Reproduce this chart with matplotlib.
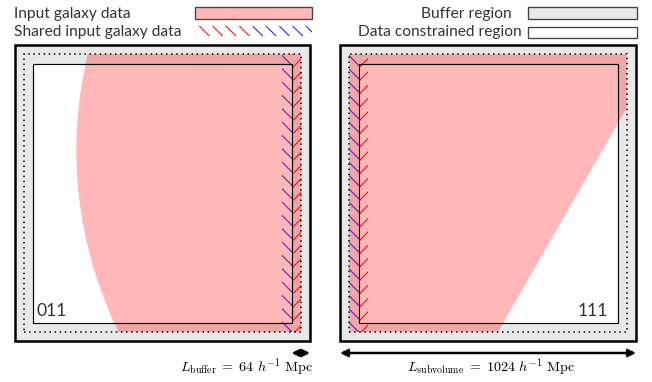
import numpy as np
import matplotlib
matplotlib.use("Agg")
import matplotlib.pyplot as plt
from matplotlib.patches import Rectangle, Circle, Polygon

plt.rcParams['mathtext.fontset'] = 'cm'
plt.rcParams['hatch.linewidth'] = 0.7
plt.rcParams['font.family'] = ['Lato', 'DejaVu Sans']

# ---------------- data ----------------
L_SUBVOLUME = 1024          # h^-1 Mpc
L_BUFFER = 64               # h^-1 Mpc
BOUNDARY = 32               # dotted boundary inset
panel_labels = ["011", "111"]
# survey footprint in subvolume 011 (a large circle)
circle_center = (1636, 660)
circle_radius = 1423
# survey footprint in subvolume 111 (polygon)
poly_x = [32, 547, 992, 992, 32]
poly_y = [32, 32, 806, 992, 992]
# shared strips: (blue x-range, red x-range)
shared_blue = [(928, 960), (32, 64)]
shared_red = [(960, 992), (64, 96)]
legend_left = ["Input galaxy data", "Shared input galaxy data"]
legend_right = ["Buffer region", "Data constrained region"]
buffer_label = r"$L_{\mathrm{buffer}}\;=\;%d\ h^{-1}\ \mathrm{Mpc}$" % L_BUFFER
subvol_label = r"$L_{\mathrm{subvolume}}\;=\;%d\ h^{-1}\ \mathrm{Mpc}$" % L_SUBVOLUME

# ---------------- style ----------------
GREY = "#e8e8e8"
PINK = (1.0, 0.0, 0.0, 0.28)
RED = "#ff1a1a"
BLUE = "#3a30ff"
TXT = "#333333"
HB = "\\\\\\"   # three backslashes
HF = "///"

DPI = 120
W, H = 652, 382
fig = plt.figure(figsize=(W / DPI, H / DPI), dpi=DPI)


def fx(px):
    return px / W


def fy(py):
    return 1 - py / H


axes_px = [(15, 45, 295, 296), (340, 45, 296, 296)]
L = L_SUBVOLUME
axes = []
for i, (x0, y0, w, h) in enumerate(axes_px):
    ax = fig.add_axes([fx(x0), fy(y0 + h), w / W, h / H])
    ax.set_xlim(0, L)
    ax.set_ylim(0, L)
    ax.axis('off')
    axes.append(ax)
    # buffer region
    ax.add_patch(Rectangle((0, 0), L, L, fc=GREY, ec='none', zorder=0))
    # data constrained region
    ax.add_patch(Rectangle((L_BUFFER, L_BUFFER), L - 2 * L_BUFFER, L - 2 * L_BUFFER,
                           fc='white', ec='none', zorder=1))
    # shared hatching
    bx0, bx1 = shared_blue[i]
    rx0, rx1 = shared_red[i]
    ax.add_patch(Rectangle((bx0, BOUNDARY), bx1 - bx0, L - 2 * BOUNDARY, fill=False,
                           hatch=HB, ec=BLUE, lw=0, zorder=2))
    ax.add_patch(Rectangle((rx0, BOUNDARY), rx1 - rx0, L - 2 * BOUNDARY, fill=False,
                           hatch=HF, ec=RED, lw=0, zorder=2))
    # input galaxy data
    clip = Rectangle((BOUNDARY, BOUNDARY), L - 2 * BOUNDARY, L - 2 * BOUNDARY,
                     transform=ax.transData, fc='none', ec='none')
    if i == 0:
        shape = Circle(circle_center, circle_radius, fc=PINK, ec='none', zorder=3)
    else:
        shape = Polygon(np.column_stack([poly_x, poly_y]), closed=True, fc=PINK,
                        ec='none', zorder=3)
    ax.add_patch(shape)
    shape.set_clip_path(clip)
    # inner border
    ax.add_patch(Rectangle((L_BUFFER, L_BUFFER), L - 2 * L_BUFFER, L - 2 * L_BUFFER,
                           fill=False, ec='black', lw=0.7, zorder=4))
    # dotted boundary
    ax.add_patch(Rectangle((BOUNDARY, BOUNDARY), L - 2 * BOUNDARY, L - 2 * BOUNDARY,
                           fill=False, ec='black', lw=0.9, ls=(0, (1, 2.4)), zorder=5))
    # outer border
    ax.add_patch(Rectangle((0, 0), L, L, fill=False, ec='black', lw=1.5, zorder=6,
                           clip_on=False))
    # label
    if i == 0:
        ax.text(76, 87, panel_labels[i], ha='left', va='baseline', fontsize=10.5,
                color=TXT, zorder=7)
    else:
        ax.text(927, 87, panel_labels[i], ha='right', va='baseline', fontsize=10.5,
                color=TXT, zorder=7)

# ---------------- legend ----------------
fs_leg = 9.3
fig.text(fx(14), fy(18.3), legend_left[0], ha='left', va='baseline', fontsize=fs_leg, color=TXT)
fig.text(fx(14), fy(36), legend_left[1], ha='left', va='baseline', fontsize=fs_leg, color=TXT)
fig.patches.append(Rectangle((fx(195), fy(19.3)), (312 - 195) / W, 12 / H,
                             transform=fig.transFigure, fc=PINK, ec='#444444', lw=0.8))
fig.patches.append(Rectangle((fx(196), fy(36)), (254 - 196) / W, 9.5 / H,
                             transform=fig.transFigure, fill=False, hatch=HB, ec=RED, lw=0))
fig.patches.append(Rectangle((fx(254), fy(36)), (312 - 254) / W, 9.5 / H,
                             transform=fig.transFigure, fill=False, hatch=HB, ec=BLUE, lw=0))

fig.text(fx(512), fy(18.3), legend_right[0], ha='right', va='baseline', fontsize=fs_leg, color=TXT)
fig.text(fx(522), fy(36), legend_right[1], ha='right', va='baseline', fontsize=fs_leg, color=TXT)
fig.patches.append(Rectangle((fx(528), fy(19.3)), (637 - 528) / W, 12 / H,
                             transform=fig.transFigure, fc=GREY, ec='#444444', lw=0.8))
fig.patches.append(Rectangle((fx(528), fy(38)), (637 - 528) / W, 11.5 / H,
                             transform=fig.transFigure, fc='white', ec='#444444', lw=0.8))

# ---------------- arrows & labels ----------------
arrow_y = fy(353)
arrow_kw = dict(arrowstyle='<|-|>', color='black', lw=1.5, shrinkA=0, shrinkB=0,
                mutation_scale=9)
axes[0].annotate('', xy=(L, arrow_y), xytext=(L - L_BUFFER, arrow_y),
                 xycoords=('data', 'figure fraction'), textcoords=('data', 'figure fraction'),
                 arrowprops=arrow_kw, annotation_clip=False)
axes[1].annotate('', xy=(L, arrow_y), xytext=(0, arrow_y),
                 xycoords=('data', 'figure fraction'), textcoords=('data', 'figure fraction'),
                 arrowprops=arrow_kw, annotation_clip=False)
fig.text(fx(313), fy(372), buffer_label, ha='right', va='baseline', fontsize=8.5, color='black')
fig.text(fx(491.5), fy(372), subvol_label, ha='center', va='baseline', fontsize=8.5, color='black')

fig.savefig("out.png", dpi=DPI)
